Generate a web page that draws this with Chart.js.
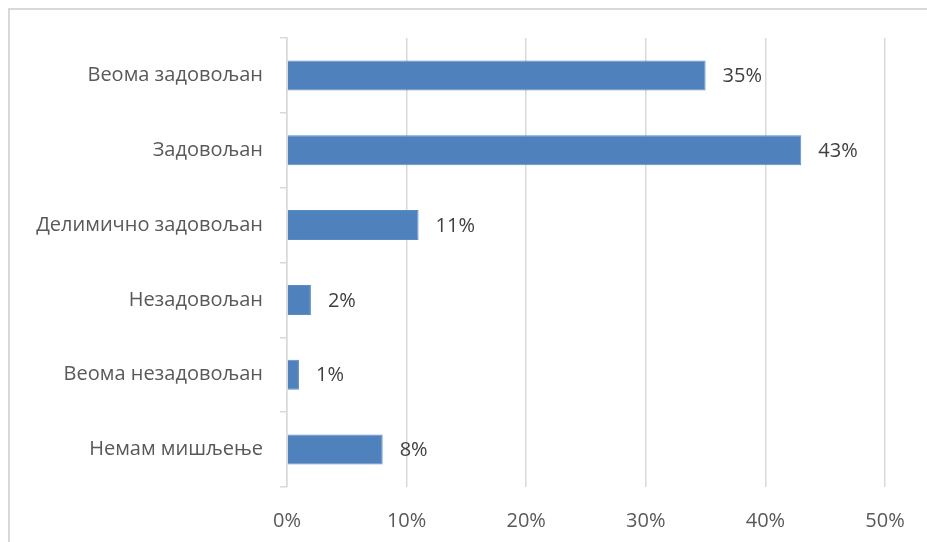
<!DOCTYPE html>
<html>
<head>
<meta charset="utf-8">
<script src="https://cdn.jsdelivr.net/npm/chart.js@4/dist/chart.umd.min.js"></script>
<style>
  html, body { margin: 0; padding: 0; background: #fff; overflow: hidden; }
  #wrap { position: relative; width: 927px; height: 542px; }
  #frame { position: absolute; left: 8px; top: 8px; width: 940px; height: 560px;
           border: 2px solid #D9D9D9; box-sizing: border-box; }
  canvas { position: absolute; left: 0; top: 0; }
</style>
</head>
<body>
<div id="wrap">
  <div id="frame"></div>
  <canvas id="c" width="927" height="542"></canvas>
</div>
<script>
// Survey answers and their shares (percent)
const categories = ['Веома задовољан', 'Задовољан', 'Делимично задовољан', 'Незадовољан', 'Веома незадовољан', 'Немам мишљење'];
const shares = [35, 43, 11, 2, 1, 8];
const axisTicks = [0, 10, 20, 30, 40, 50];

const FONT = "'Open Sans', 'Noto Sans', sans-serif";
const GRID = '#D9D9D9';

// Writes the percentage just past the end of each bar
const valueLabels = {
  id: 'valueLabels',
  afterDatasetsDraw(chart) {
    const ctx = chart.ctx;
    const meta = chart.getDatasetMeta(0);
    ctx.save();
    ctx.font = '20px ' + FONT;
    ctx.fillStyle = '#404040';
    ctx.textAlign = 'left';
    ctx.textBaseline = 'middle';
    meta.data.forEach((bar, i) => {
      ctx.fillText(shares[i] + '%', bar.x + 17, bar.y + 1);
    });
    ctx.restore();
  }
};

new Chart(document.getElementById('c'), {
  type: 'bar',
  data: {
    labels: categories,
    datasets: [{
      data: shares,
      backgroundColor: '#4F81BD',
      borderColor: '#5B8BC6',
      borderWidth: 1,
      barPercentage: 0.4,
      categoryPercentage: 1.0
    }]
  },
  options: {
    indexAxis: 'y',
    responsive: false,
    animation: false,
    events: [],
    layout: { padding: { top: 38, right: 42, left: 0, bottom: 0 } },
    plugins: { legend: { display: false }, tooltip: { enabled: false } },
    scales: {
      x: {
        min: 0,
        max: 50,
        afterBuildTicks(scale) { scale.ticks = axisTicks.map(v => ({ value: v })); },
        afterFit(scale) { scale.height = 55; },
        grid: { color: GRID, lineWidth: 1.5, drawTicks: false },
        border: { display: false },
        ticks: {
          padding: 22,
          color: '#595959',
          font: { family: FONT, size: 20 },
          callback: v => v + '%'
        }
      },
      y: {
        afterFit(scale) { scale.width = 287; },
        grid: { offset: true, drawOnChartArea: false, drawTicks: true, tickLength: 7, color: GRID, lineWidth: 1.5 },
        border: { display: true, color: GRID, width: 1.5 },
        ticks: {
          padding: 17,
          color: '#595959',
          font: { family: FONT, size: 20 }
        }
      }
    }
  },
  plugins: [valueLabels]
});
</script>
</body>
</html>
